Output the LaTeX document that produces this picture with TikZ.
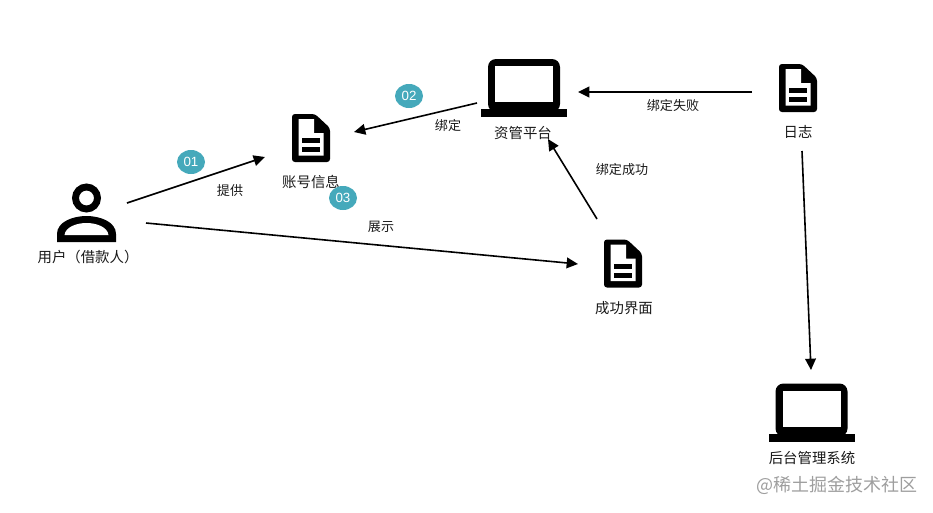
\documentclass[tikz,border=0pt]{standalone}
\usepackage{fontspec}
\setmainfont{Noto Sans CJK SC}
\newfontfamily\latinsans{Liberation Sans}
\usetikzlibrary{arrows.meta,shapes.geometric}
\definecolor{badgeteal}{HTML}{45A9BB}
\tikzset{
  link/.style={draw=black,line width=1.2pt,-{Triangle[length=8.5pt,width=8pt]}},
  iconlabel/.style={font=\fontsize{10.8}{12}\selectfont,inner sep=0pt,text=black!90},
  linklabel/.style={font=\fontsize{9.8}{12}\selectfont,inner sep=0pt,text=black!90},
  badge/.style={ellipse,fill=badgeteal,minimum width=21pt,minimum height=18pt,inner sep=0pt,text=white,font=\latinsans\fontsize{10}{12}\selectfont},
  mark text/.style={font=\fontsize{13.5}{16}\selectfont,inner sep=0pt,text=black!38},
  doc/.pic={
    \fill[black,rounded corners=2.2pt] (-19,-24) -- (4,-24) -- (19,-10) -- (19,24) -- (-19,24) -- cycle;
    \fill[white] (-12.5,-19) -- (3,-19) -- (3,-5) -- (12.5,-5) -- (12.5,17.5) -- (-12.5,17.5) -- cycle;
    \fill[black] (-9,0) rectangle (9,5);
    \fill[black] (-9,9) rectangle (9,14);
  },
  laptop/.pic={
    \fill[black,rounded corners=6pt] (-36,24) -- (-36,-29) -- (36,-29) -- (36,24) -- cycle;
    \fill[white] (-29,-22) rectangle (29,14);
    \fill[black] (-43,21) rectangle (43,29);
  },
  person/.pic={
    \draw[black,line width=5.2pt] (0,-18) circle (11);
    \fill[black] (-29.5,26) -- (-29.5,18) .. controls (-29.5,6) and (-14,0) .. (0,0) .. controls (14,0) and (29.5,6) .. (29.5,18) -- (29.5,26) -- cycle;
    \fill[white] (-22,19) .. controls (-21,11) and (-10,7) .. (0,7) .. controls (10,7) and (21,11) .. (22,19) -- cycle;
  }
}
\begin{document}
\begin{tikzpicture}[x=0.75pt,y=-0.75pt]
\useasboundingbox (0,0) rectangle (933,512);
% icons
\pic at (86.5,216) {person};
\pic at (311,138) {doc};
\pic at (524,88) {laptop};
\pic at (798,88) {doc};
\pic at (623,263.5) {doc};
\pic at (811.5,412.5) {laptop};
% icon labels
\node[iconlabel] (user) at (88,257) {用户（借款人）};
\node[iconlabel] (account) at (311,182) {账号信息};
\node[iconlabel] (platform) at (523,133) {资管平台};
\node[iconlabel] (log) at (798,132) {日志};
\node[iconlabel] (success) at (624,308) {成功界面};
\node[iconlabel] (admin) at (812,458) {后台管理系统};
% connector ends
\coordinate (uA) at (127,203);
\coordinate (aU) at (265,157);
\coordinate (uS) at (146,223);
\coordinate (sU) at (578,264);
\coordinate (pA) at (477,103);
\coordinate (aP) at (354,132);
\coordinate (lP) at (752,92);
\coordinate (pL) at (578,92);
\coordinate (sP) at (597,219);
\coordinate (pS) at (548,139);
\coordinate (lB) at (802,151);
\coordinate (bL) at (811,370);
\draw[link] (uA) -- (aU);
\draw[link] (uS) -- (sU);
\draw[link] (pA) -- (aP);
\draw[link] (lP) -- (pL);
\draw[link] (sP) -- (pS);
\draw[link] (lB) -- (bL);
% connector labels
\node[linklabel] (l1) at (230,191) {提供};
\node[linklabel] (l2) at (448,126) {绑定};
\node[linklabel] (l3) at (673,106) {绑定失败};
\node[linklabel] (l4) at (622,170) {绑定成功};
\node[linklabel] (l5) at (381,227) {展示};
% badges
\node[badge] (b1) at (191,162) {01};
\node[badge] (b2) at (409,96) {02};
\node[badge] (b3) at (343,198) {03};
% watermark
\node[mark text] (wm) at (837,485) {@稀土掘金技术社区};
\end{tikzpicture}
\end{document}
